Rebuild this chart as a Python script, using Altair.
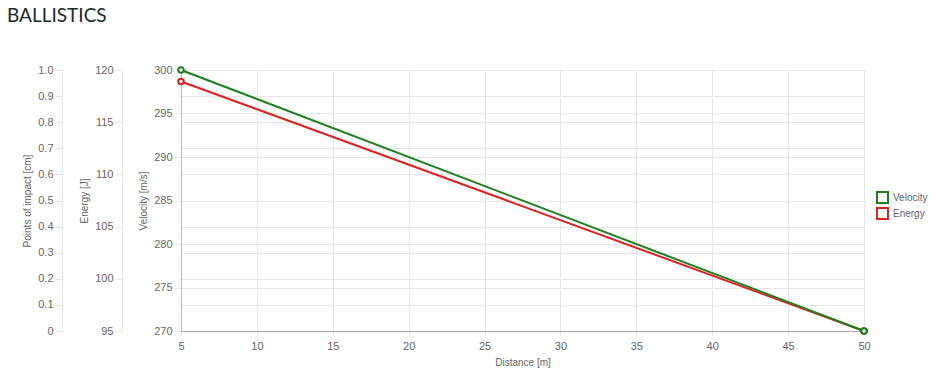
import altair as alt
import pandas as pd

distance = [5, 50]
velocity = [300, 270]
energy = [118.9, 95.0]
impact_range = [0, 1]

GREEN = "#1f7f1f"
RED = "#dd2222"
GRID = "#e6e6e6"
LABEL = "#666666"
FONT = "Liberation Sans"
SERIES = ["Velocity", "Energy"]

vel_df = pd.DataFrame({"distance": distance, "value": velocity, "series": "Velocity"})
en_df = pd.DataFrame({"distance": distance, "value": energy, "series": "Energy"})
imp_df = pd.DataFrame({"distance": distance, "impact": impact_range})

x_enc = alt.X(
    "distance:Q",
    scale=alt.Scale(domain=[5, 50], nice=False, zero=False),
    axis=alt.Axis(
        title="Distance [m]", values=list(range(5, 51, 5)), grid=True, gridColor=GRID,
        domainColor="#aaaaaa", tickColor=GRID, tickSize=5, labelPadding=4,
        labelFlush=False, labelBound=False,
        titlePadding=6, labelFont=FONT, titleFont=FONT, labelFontSize=11,
        titleFontSize=10, titleFontWeight="normal", labelColor=LABEL, titleColor=LABEL,
    ),
)

color_enc = alt.Color(
    "series:N",
    scale=alt.Scale(domain=SERIES, range=[GREEN, RED]),
    legend=alt.Legend(
        title=None, orient="none", legendX=695, legendY=121, symbolType="square",
        symbolSize=121, symbolStrokeWidth=2, symbolFillColor="white",
        labelFont=FONT, labelFontSize=10, labelColor=LABEL, rowPadding=-3,
        symbolOpacity=1, labelOffset=4,
    ),
)

def axis(title, offset, values, title_pad, label_expr=None, domain_color=GRID):
    kw = dict(
        title=title, orient="left", offset=offset, values=values, grid=True,
        gridColor=GRID, domainColor=domain_color, tickColor=GRID, tickSize=7,
        labelPadding=2, titlePadding=title_pad, labelFont=FONT, titleFont=FONT,
        labelFontSize=11, titleFontSize=10, titleFontWeight="normal",
        labelColor=LABEL, titleColor=LABEL,
    )
    if label_expr:
        kw["labelExpr"] = label_expr
    return alt.Axis(**kw)

imp_layer = alt.Chart(imp_df).mark_point(opacity=0).encode(
    x=x_enc,
    y=alt.Y(
        "impact:Q",
        scale=alt.Scale(domain=[0, 1], nice=False),
        axis=axis("Points of impact [cm]", 119, [round(i * 0.1, 1) for i in range(11)], 5,
                  "datum.value == 0 ? '0' : format(datum.value, '.1f')"),
    ),
)

def series_layer(df, domain, ax):
    y_enc = alt.Y("value:Q", scale=alt.Scale(domain=domain, nice=False, zero=False), axis=ax)
    line = alt.Chart(df).mark_line(strokeWidth=2).encode(x=x_enc, y=y_enc, color=color_enc)
    pts = alt.Chart(df).mark_point(filled=False, fill="white", fillOpacity=1, size=30, strokeWidth=2, opacity=1).encode(
        x=x_enc, y=y_enc,
        stroke=alt.Stroke("series:N", scale=alt.Scale(domain=SERIES, range=[GREEN, RED]), legend=None),
    )
    return alt.layer(line, pts)

en_layer = series_layer(en_df, [95, 120], axis("Energy [J]", 59, [95, 100, 105, 110, 115, 120], 5))
vel_layer = series_layer(vel_df, [270, 300], axis("Velocity [m/s]", 0, [270, 275, 280, 285, 290, 295, 300], 5, domain_color="#bbbbbb"))

chart = alt.layer(imp_layer, en_layer, vel_layer).resolve_scale(y="independent").properties(
    width=683,
    height=261,
    autosize=alt.AutoSizeParams(type="none"),
    padding={"left": 181, "top": 70, "right": 77, "bottom": 50},
    title=alt.Title(
        "BALLISTICS", anchor="start", frame="group", dx=-174, offset=37,
        font="Lato", fontSize=19, fontWeight="normal", color="#1a2b2b",
    ),
).configure_view(stroke=None).configure(background="white")

chart.save("out.html", embed_options={"renderer": "svg", "actions": False})
